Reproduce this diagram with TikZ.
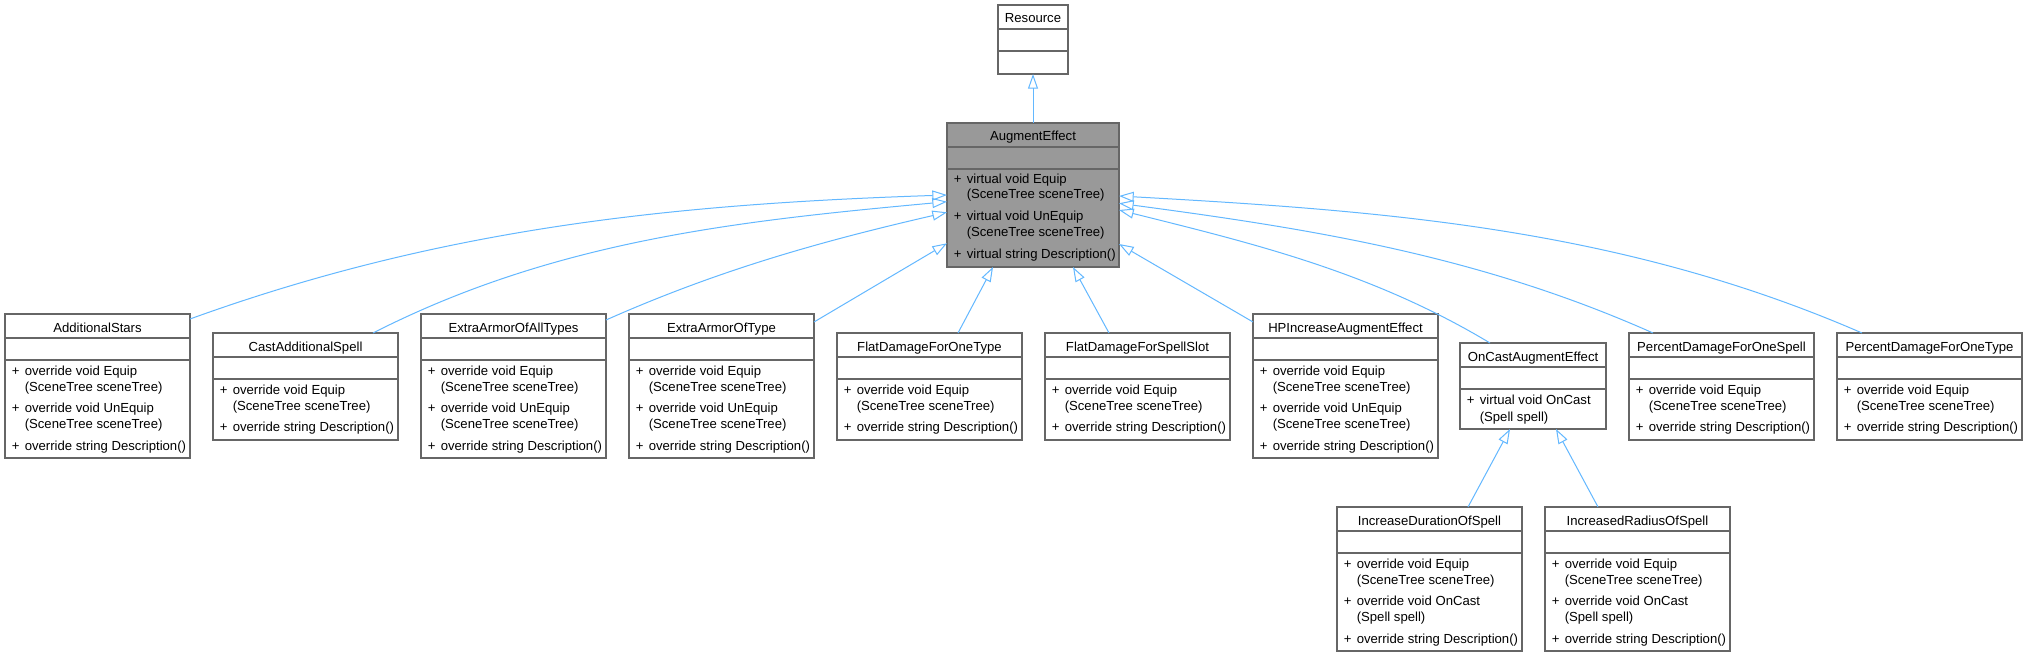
\documentclass[tikz,border=0pt]{standalone}
\usepackage{fontspec}
\setmainfont{Liberation Sans}
\usetikzlibrary{arrows.meta,calc}
\definecolor{bordergray}{HTML}{666666}
\definecolor{edgeblue}{HTML}{63B8FF}
\definecolor{curfill}{HTML}{999999}
\newcommand\umlbox[7]{%
  \node[cls, #7, minimum width=#4*0.75pt, minimum height=#5*0.75pt, anchor=north west] (#1) at (#2,#3) {};
  \draw[sepline] ($(#1.north west)+(0,24)$) -- ($(#1.north east)+(0,24)$);
  \draw[sepline] ($(#1.north west)+(0,46)$) -- ($(#1.north east)+(0,46)$);
  \node[txt, anchor=base] at ($(#1.north)+(0,18)$) {#6};
}
\newcommand\umlmeth[3]{%
  \node[txt, anchor=base west] at ($(#1.north west)+(6.5,#2)$) {+};
  \node[txt, anchor=base west] at ($(#1.north west)+(19.5,#2)$) {#3};
}
\newcommand\umlcont[3]{%
  \node[txt, anchor=base west] at ($(#1.north west)+(19.5,#2)$) {#3};
}
\newcommand\tallbox[4]{% id x y title : Equip, UnEquip, Description
  \umlbox{#1}{#2}{#3}{185}{144}{#4}{}
  \umlmeth{#1}{61}{override void Equip}
  \umlcont{#1}{77}{(SceneTree sceneTree)}
  \umlmeth{#1}{98}{override void UnEquip}
  \umlcont{#1}{114}{(SceneTree sceneTree)}
  \umlmeth{#1}{136}{override string Description()}
}
\newcommand\shortbox[4]{% id x y title : Equip, Description
  \umlbox{#1}{#2}{#3}{185}{107}{#4}{}
  \umlmeth{#1}{61.5}{override void Equip}
  \umlcont{#1}{77.5}{(SceneTree sceneTree)}
  \umlmeth{#1}{98.5}{override string Description()}
}
\newcommand\castbox[4]{% id x y title : Equip, OnCast, Description
  \umlbox{#1}{#2}{#3}{185}{144}{#4}{}
  \umlmeth{#1}{61}{override void Equip}
  \umlcont{#1}{77}{(SceneTree sceneTree)}
  \umlmeth{#1}{98}{override void OnCast}
  \umlcont{#1}{114}{(Spell spell)}
  \umlmeth{#1}{136}{override string Description()}
}
\begin{document}
\begin{tikzpicture}[x=0.75pt,y=-0.75pt,
  cls/.style={draw=bordergray, line width=0.9pt, fill=white, inner sep=0pt, outer sep=0pt},
  sepline/.style={draw=bordergray, line width=0.9pt},
  txt/.style={inner sep=0pt, font=\fontsize{9.85}{11}\selectfont},
  inh/.style={draw=edgeblue, line width=0.75pt, -{Triangle[open, length=11pt, width=7.5pt]}}]
\fill[white] (0,0) rectangle (2027,656);
\useasboundingbox (0,0) rectangle (2027,656);

% Resource
\umlbox{res}{998}{5}{70}{69}{Resource}{}
% AugmentEffect
\umlbox{ae}{947}{123}{172}{144}{AugmentEffect}{fill=curfill}
\umlmeth{ae}{60.5}{virtual void Equip}
\umlcont{ae}{76}{(SceneTree sceneTree)}
\umlmeth{ae}{97.5}{virtual void UnEquip}
\umlcont{ae}{113}{(SceneTree sceneTree)}
\umlmeth{ae}{135}{virtual string Description()}

% children row
\tallbox{as}{5}{314}{AdditionalStars}
\shortbox{cas}{213}{333}{CastAdditionalSpell}
\tallbox{eaa}{421}{314}{ExtraArmorOfAllTypes}
\tallbox{eat}{629}{314}{ExtraArmorOfType}
\shortbox{fdt}{837}{333}{FlatDamageForOneType}
\shortbox{fds}{1045}{333}{FlatDamageForSpellSlot}
\tallbox{hp}{1253}{314}{HPIncreaseAugmentEffect}
\umlbox{oc}{1460}{343}{146}{86}{OnCastAugmentEffect}{}
\umlmeth{oc}{61}{virtual void OnCast}
\umlcont{oc}{78}{(Spell spell)}
\shortbox{pds}{1629}{333}{PercentDamageForOneSpell}
\shortbox{pdt}{1837}{333}{PercentDamageForOneType}

% grandchildren
\castbox{ids}{1337}{507}{IncreaseDurationOfSpell}
\castbox{irs}{1545}{507}{IncreasedRadiusOfSpell}

% inheritance edges
\draw[inh] (ae.north) -- (res.south);
\draw[inh] ($(as.north east)+(0,5)$) .. controls +(254,-92) and +(-270,9) .. ($(ae.north west)+(0,72)$);
\draw[inh] ($(cas.north west)+(160,0)$) .. controls +(183.5,-93.5) and +(-205,19) .. ($(ae.north west)+(0,78.7)$);
\draw[inh] ($(eaa.north east)+(0,6)$) .. controls +(115,-51) and +(-122.8,28.3) .. ($(ae.north west)+(0,89.3)$);
\draw[inh] ($(eat.north east)+(0,8)$) -- ($(ae.north west)+(0,120.3)$);
\draw[inh] ($(fdt.north west)+(121,0)$) -- ($(ae.south west)+(46,0)$);
\draw[inh] ($(fds.north west)+(64,0)$) -- ($(ae.south east)+(-46,0)$);
\draw[inh] ($(hp.north west)+(0,8)$) -- ($(ae.north east)+(0,121)$);
\draw[inh] ($(oc.north west)+(30,0)$) .. controls +(-118.3,-71.1) and +(133.9,33.4) .. ($(ae.north east)+(0,87)$);
\draw[inh] ($(pds.north west)+(24,0)$) .. controls +(-175.4,-78.1) and +(190.3,25.4) .. ($(ae.north east)+(0,80.3)$);
\draw[inh] ($(pdt.north west)+(25,0)$) .. controls +(-242.1,-105.3) and +(263.6,14.7) .. ($(ae.north east)+(0,73)$);
\draw[inh] ($(ids.north west)+(131,0)$) -- ($(oc.south west)+(50,0)$);
\draw[inh] ($(irs.north west)+(53,0)$) -- ($(oc.south west)+(96,0)$);
\end{tikzpicture}
\end{document}
